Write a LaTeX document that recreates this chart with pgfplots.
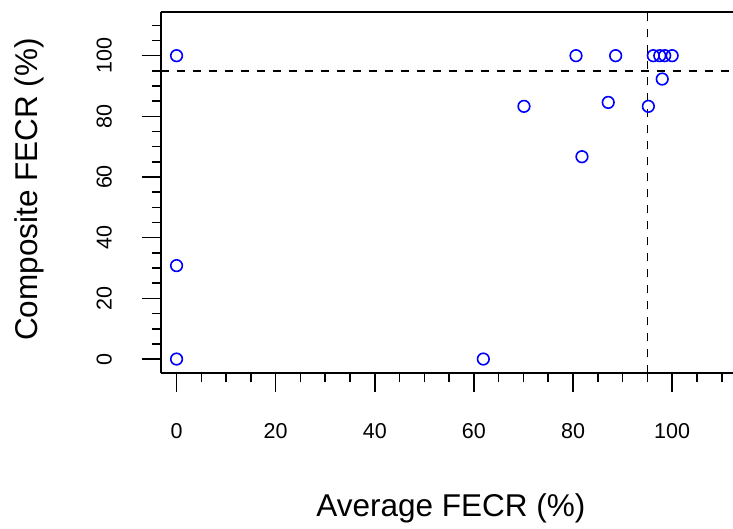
\documentclass[border=0pt]{standalone}
\usepackage{pgfplots}
\pgfplotsset{compat=1.18}
\usepackage{fontspec}
\setmainfont{Liberation Sans}
\begin{document}
\begin{tikzpicture}[x=1pt,y=1pt]
\useasboundingbox (0,0) rectangle (733,529);
\begin{axis}[
  at={(160.7pt,155.7pt)}, anchor=south west,
  scale only axis, width=572.4pt, height=361.6pt,
  xmin=-3.2, xmax=112.3, ymin=-4.7, ymax=114.5,
  axis lines*=left,
  axis line style={line width=1.7pt, black, -},
  tick align=outside,
  xtick={0,20,40,60,80,100}, ytick={0,20,40,60,80,100},
  minor xtick={5,10,15,25,30,35,45,50,55,65,70,75,85,90,95,105,110},
  minor ytick={5,10,15,25,30,35,45,50,55,65,70,75,85,90,95,105,110},
  major tick length=19pt, minor tick length=9pt,
  every tick/.style={black, line width=1.6pt},
  /pgf/number format/assume math mode=true,
  xticklabel style={font=\fontsize{21.5}{24}\selectfont, inner sep=0pt, anchor=north},
  yticklabel style={font=\fontsize{21.5}{24}\selectfont, inner sep=0pt, rotate=90, anchor=south},
  xticklabel shift=31pt, yticklabel shift=29.7pt,
  xlabel={Average FECR (\%)},
  ylabel={Composite FECR (\%)},
  xlabel style={font=\fontsize{31.5}{36}\selectfont, inner sep=0pt, at={([xshift=4pt,yshift=-143.4pt]axis description cs:0.5,0)}, anchor=base},
  ylabel style={font=\fontsize{31.5}{36}\selectfont, inner sep=0pt, at={([xshift=-123.2pt,yshift=3pt]axis description cs:0,0.5)}, anchor=base},
  clip=false,
]
\addplot[black, line width=1.6pt, dash pattern=on 8pt off 8pt, forget plot] coordinates {(95,-4.7) (95,114.5)};
\addplot[black, line width=1.6pt, dash pattern=on 8pt off 8pt, forget plot] coordinates {(-3.2,95) (112.3,95)};
\addplot[only marks, mark=o, mark size=5.8pt, color=blue, mark options={line width=1.6pt}] table {
x y
0 100
0 30.8
0 0
61.9 0
70.1 83.3
80.6 100
81.8 66.7
87.1 84.6
88.6 100
95.2 83.3
96.2 100
97.5 100
98.5 100
100 100
98.0 92.3
};
\draw[black, line width=1.7pt] (rel axis cs:0,1) -- (rel axis cs:1,1);
\end{axis}
\end{tikzpicture}
\end{document}
